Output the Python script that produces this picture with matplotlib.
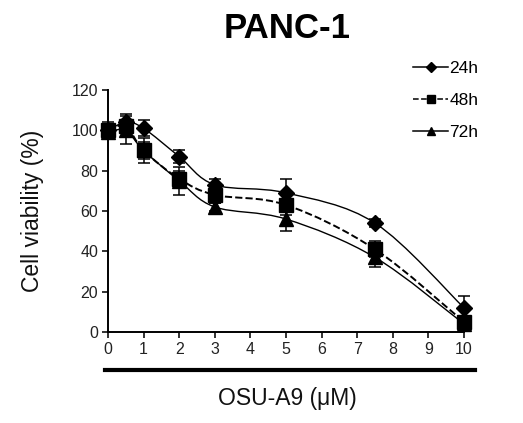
import numpy as np
import matplotlib
matplotlib.use('Agg')
import matplotlib.pyplot as plt
from matplotlib.path import Path
from matplotlib.patches import PathPatch
from matplotlib.lines import Line2D

plt.rcParams['font.family'] = ['Liberation Sans', 'DejaVu Sans']

# concentrations (uM)
dose = [0, 0.5, 1, 2, 3, 5, 7.5, 10]

# cell viability (%) and error
v24 = [100, 104, 101, 87, 73, 69, 54, 12]
e24 = [4, 4, 4, 3, 3, 7, 2, 6]
v48 = [100, 102, 90, 76, 68, 63, 41, 5]
e48 = [3, 3, 4, 4, 4, 5, 4, 2]
v72 = [99, 100, 90, 75, 62, 56, 37, 4]
e72 = [3, 7, 6, 7, 2, 6, 5, 2]

labels = ['24h', '48h', '72h']
markers = ['D', 's', '^']
styles = ['-', '--', '-']


def smooth_path(x, y):
    # Excel-like smoothed line: cubic bezier segments
    x = np.asarray(x, float)
    y = np.asarray(y, float)
    pts = np.column_stack([x, y])
    n = len(pts)
    verts = [pts[0]]
    codes = [Path.MOVETO]
    for i in range(n - 1):
        p0 = pts[i - 1] if i > 0 else pts[i]
        p1 = pts[i]
        p2 = pts[i + 1]
        p3 = pts[i + 2] if i + 2 < n else pts[i + 1]
        c1 = p1 + (p2 - p0) / 6.0
        c2 = p2 - (p3 - p1) / 6.0
        verts += [c1, c2, p2]
        codes += [Path.CURVE4] * 3
    return Path(verts, codes)


fig = plt.figure(figsize=(5.23, 4.23), dpi=100)
ax = fig.add_axes([108 / 523, 1 - 332 / 423, 356 / 523, 242 / 423])

series = [(v24, e24), (v48, e48), (v72, e72)]
sizes = {'D': 8, 's': 9.5, '^': 10}
handles = []
for (v, e), lab, mk, ls in zip(series, labels, markers, styles):
    patch = PathPatch(smooth_path(dose, v), facecolor='none', edgecolor='black',
                      lw=1.0 if ls == '-' else 1.4, linestyle=ls, clip_on=False)
    ax.add_patch(patch)
    ax.errorbar(dose, v, yerr=e, fmt='none', ecolor='black', elinewidth=1.1,
                capsize=4, capthick=1.1, clip_on=False)
    ax.plot(dose, v, linestyle='none', marker=mk, color='black', ms=sizes[mk], clip_on=False)
    handles.append(Line2D([], [], color='black', linestyle=ls, lw=1.1,
                          marker=mk, ms=5.5))

ax.set_xlim(0, 10)
ax.set_ylim(0, 120)
ax.set_xticks(range(0, 11))
ax.set_yticks(range(0, 121, 20))
ax.spines['top'].set_visible(False)
ax.spines['right'].set_visible(False)
for s in ['left', 'bottom']:
    ax.spines[s].set_linewidth(1.4)
ax.tick_params(direction='out', length=4, width=1.3, labelsize=11.5, pad=3,
               colors='#222222')
ax.set_ylabel('Cell viability (%)', fontsize=16.5, labelpad=20, color='#111111')

fig.text(287 / 523, 1 - 28 / 423, 'PANC-1', fontsize=25, fontweight='bold',
         ha='center', va='center')

# thick bar under the axis and x label
fig.add_artist(Line2D([105 / 523, 475 / 523], [1 - 370 / 423, 1 - 370 / 423],
                      color='black', lw=3))
fig.text(287 / 523, 1 - 398 / 423, 'OSU-A9 (\u03bcM)', fontsize=16.5,
         ha='center', va='center', color='#111111')

fig.legend(handles, labels, loc='upper left', bbox_to_anchor=(401 / 523, 1 - 49 / 423),
           frameon=False, fontsize=12.5, handlelength=2.0, labelspacing=0.95,
           handletextpad=0.1, borderpad=0.2)

fig.savefig('out.png', dpi=100)
